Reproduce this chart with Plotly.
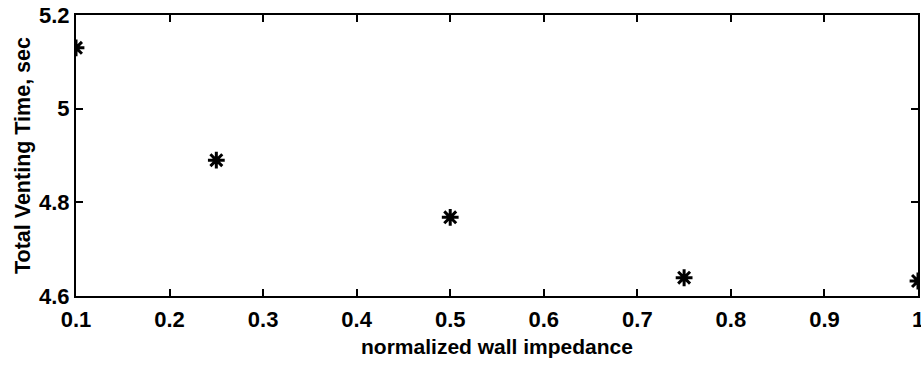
import plotly.graph_objects as go

# Venting time versus normalized wall impedance
impedance = [0.1, 0.25, 0.5, 0.75, 1.0]
venting_time = [5.13, 4.89, 4.768, 4.639, 4.632]

x_ticks = [0.1, 0.2, 0.3, 0.4, 0.5, 0.6, 0.7, 0.8, 0.9, 1.0]
x_tick_text = ["0.1", "0.2", "0.3", "0.4", "0.5", "0.6", "0.7", "0.8", "0.9", "1"]
y_ticks = [4.6, 4.8, 5.0, 5.2]
y_tick_text = ["4.6", "4.8", "5", "5.2"]

family = "Liberation Sans, Arial, sans-serif"
tick_font = dict(family=family, size=22, color="black", weight="bold")
xtitle_font = dict(family=family, size=21, color="black", weight="bold")
ytitle_font = dict(family=family, size=21.5, color="black", weight="bold")

fig = go.Figure()
fig.add_trace(go.Scatter(
    x=impedance, y=venting_time, mode="markers",
    marker=dict(symbol="asterisk-open", size=14, color="black",
                line=dict(color="black", width=3)),
    showlegend=False,
))

axis_common = dict(
    showline=True, linecolor="black", linewidth=2, mirror="ticks",
    ticks="inside", ticklen=7, tickwidth=1.5, tickcolor="black",
    showgrid=False, zeroline=False, tickfont=tick_font,
    ticklabeloverflow="allow",
)

fig.update_xaxes(range=[0.1, 1.0], tickvals=x_ticks, ticktext=x_tick_text,
                 title=dict(text="normalized wall impedance", font=xtitle_font, standoff=8),
                 ticklabelstandoff=3, **axis_common)
fig.update_yaxes(range=[4.6, 5.2], tickvals=y_ticks, ticktext=y_tick_text,
                 title=dict(text="Total Venting Time, sec", font=ytitle_font, standoff=2),
                 ticklabelstandoff=0, **axis_common)

fig.update_layout(
    width=921, height=366,
    margin=dict(l=76, r=3, t=15, b=70, autoexpand=False),
    paper_bgcolor="white", plot_bgcolor="white",
    font=tick_font,
)

fig.write_html("out.html")
